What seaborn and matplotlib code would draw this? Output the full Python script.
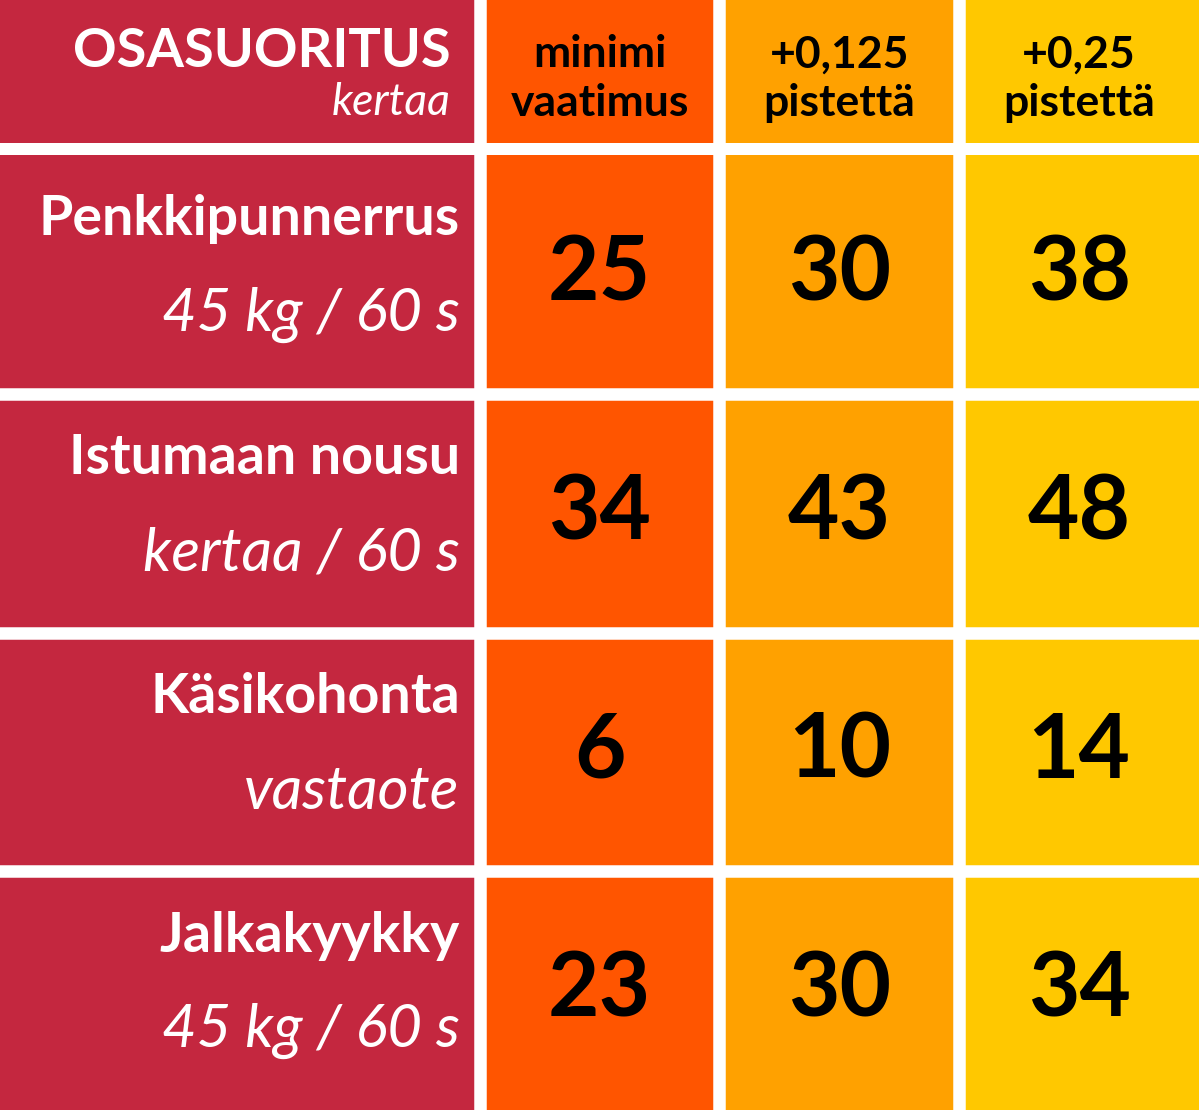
import numpy as np
import matplotlib.pyplot as plt
import seaborn as sns
from matplotlib.colors import ListedColormap

# data
columns = ["minimi\nvaatimus", "+0,125\npistettä", "+0,25\npistettä"]
events = ["Penkkipunnerrus", "Istumaan nousu", "Käsikohonta", "Jalkakyykky"]
units = ["45 kg / 60 s", "kertaa / 60 s", "vastaote", "45 kg / 60 s"]
minimi = [25, 34, 6, 23]
plus_0125 = [30, 43, 10, 30]
plus_025 = [38, 48, 14, 34]

RED = "#C4273F"
cmap = ListedColormap([RED, "#FF5500", "#FFA100", "#FFC800"])
FONT = "Lato"
W, H = 1199, 1110
GAP = 12.5 / 100 * 72  # gap in points

fig = plt.figure(figsize=(W / 100, H / 100), dpi=100)
fig.patch.set_facecolor("white")

# header row: label column spans two units
codes_head = np.array([[0, 0, 1, 2, 3]])
ax_h = fig.add_axes([0, (H - 143) / H, 1, 143 / H])
sns.heatmap(codes_head, cmap=cmap, vmin=-0.5, vmax=3.5, cbar=False, ax=ax_h,
            xticklabels=False, yticklabels=False)
for x in [2, 3, 4]:
    ax_h.axvline(x, color="white", lw=GAP)
ax_h.text(1.88, 0.36, "OSASUORITUS", color="white", fontsize=39, fontweight="bold",
          family=FONT, ha="right", va="center")
ax_h.text(1.88, 0.72, "kertaa", color="white", fontsize=32, style="italic",
          family=FONT, ha="right", va="center")
for j, lab in enumerate(columns):
    l1, l2 = lab.split("\n")
    ax_h.text(2.5 + j, 0.38, l1, fontsize=32, fontweight="bold", family=FONT,
              ha="center", va="center")
    ax_h.text(2.5 + j, 0.72, l2, fontsize=32, fontweight="bold", family=FONT,
              ha="center", va="center")

# body
values = np.array([minimi, plus_0125, plus_025]).T
codes = np.tile([0, 0, 1, 2, 3], (len(events), 1))
ax_b = fig.add_axes([0, 0, 1, (H - 155) / H])
sns.heatmap(codes, cmap=cmap, vmin=-0.5, vmax=3.5, cbar=False, ax=ax_b,
            xticklabels=False, yticklabels=False)
for x in [2, 3, 4]:
    ax_b.axvline(x, color="white", lw=GAP)
for y in [1, 2, 3]:
    ax_b.axhline(y, color="white", lw=GAP)
for i, (ev, un) in enumerate(zip(events, units)):
    ax_b.text(1.917, i + 0.27, ev, color="white", fontsize=40, fontweight="bold",
              family=FONT, ha="right", va="center")
    ax_b.text(1.917, i + 0.67, un, color="white", fontsize=43, style="italic",
              family=FONT, ha="right", va="center")
    for j in range(3):
        ax_b.text(2.5 + j, i + 0.5, str(values[i, j]), fontsize=64, fontweight="bold",
                  family=FONT, ha="center", va="center")

fig.savefig("out.png", dpi=100, facecolor="white")
